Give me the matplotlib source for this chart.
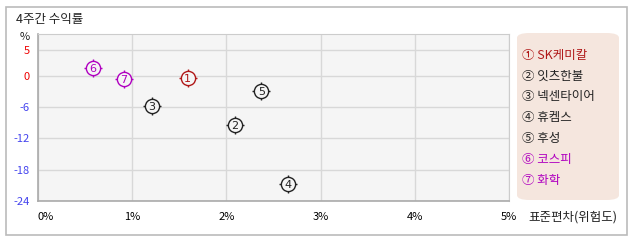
import numpy as np
import matplotlib
matplotlib.use('Agg')
import matplotlib.pyplot as plt
from matplotlib.patches import FancyBboxPatch, Rectangle

plt.rcParams['font.family'] = ['Noto Sans CJK KR', 'DejaVu Sans']

# 4주간 수익률 vs 표준편차
names = ['SK케미칼', '잇츠한불', '넥센타이어', '휴켐스', '후성', '코스피', '화학']
std_dev = [1.59, 2.09, 1.21, 2.65, 2.37, 0.58, 0.91]
returns = [-0.4, -9.4, -5.8, -20.7, -2.95, 1.5, -0.65]
colors = ['#b01818', '#222222', '#222222', '#222222', '#222222', '#b000c0', '#b000c0']
circled = ['①', '②', '③', '④', '⑤', '⑥', '⑦']

x_ticks = [0, 1, 2, 3, 4, 5]
x_labels = ['0%', '1%', '2%', '3%', '4%', '5%']
y_ticks = [5, 0, -6, -12, -18, -24]
y_colors = ['#ee0000', '#ee0000', '#4444ee', '#4444ee', '#4444ee', '#4444ee']

W, H = 638, 242
fig = plt.figure(figsize=(W / 100, H / 100), dpi=100)
fig.patch.set_facecolor('white')

# outer border
fig.patches.append(Rectangle((6 / W, 1 - 235 / H), 621 / W, 228 / H, transform=fig.transFigure,
                             fill=False, edgecolor='#bbbbbb', linewidth=1.2))
fig.text(16 / W, 1 - 20 / H, '4주간 수익률', fontsize=9, va='center', ha='left', color='#222222')
fig.text(25 / W, 1 - 37 / H, '%', fontsize=8, va='center', ha='center', color='#222222')

ax = fig.add_axes([38 / W, 1 - 201 / H, 471 / W, 167 / H])
ax.set_facecolor('#f5f5f5')
ax.set_xlim(0, 5)
ax.set_ylim(-24, 8)
ax.set_xticks(x_ticks)
ax.set_xticklabels(x_labels, fontsize=8)
ax.set_yticks(y_ticks)
ax.set_yticklabels([str(v) for v in y_ticks], fontsize=8)
for lbl, c in zip(ax.get_yticklabels(), y_colors):
    lbl.set_color(c)
ax.get_xticklabels()[0].set_ha('left')
ax.tick_params(length=0, pad=8)
ax.tick_params(axis='y', pad=6)
ax.grid(True, color='#d8d8d8', linewidth=1)
ax.set_axisbelow(True)
for side in ['top', 'right']:
    ax.spines[side].set_color('#cccccc')
for side in ['left', 'bottom']:
    ax.spines[side].set_color('#aaaaaa')
    ax.spines[side].set_linewidth(1.2)

for i in range(len(names)):
    ax.scatter(std_dev[i], returns[i], marker='+', s=150, color=colors[i], linewidths=1, zorder=3)
    ax.scatter(std_dev[i], returns[i], marker='o', s=105, facecolor='#f5f5f5',
               edgecolor=colors[i], linewidths=1, zorder=4)
    ax.annotate(str(i + 1), (std_dev[i], returns[i]), xytext=(0, -0.8), textcoords='offset points',
                fontsize=8, color=colors[i], family='DejaVu Sans',
                ha='center', va='center', zorder=5)

fig.text(528 / W, 1 - 217 / H, '표준편차(위험도)', fontsize=9, va='center', ha='left', color='#222222')

# legend box
fig.patches.append(FancyBboxPatch((517 / W, 1 - 200 / H), 102 / W, 167 / H,
                                  boxstyle='round,pad=0,rounding_size=0.02',
                                  transform=fig.transFigure, facecolor='#f5e6de',
                                  edgecolor='none'))
for i in range(len(names)):
    y = 55 + i * 20.9
    fig.text(522 / W, 1 - y / H, circled[i] + ' ' + names[i], fontsize=9, va='center', ha='left',
             color=colors[i])

fig.savefig('out.png', dpi=100)
